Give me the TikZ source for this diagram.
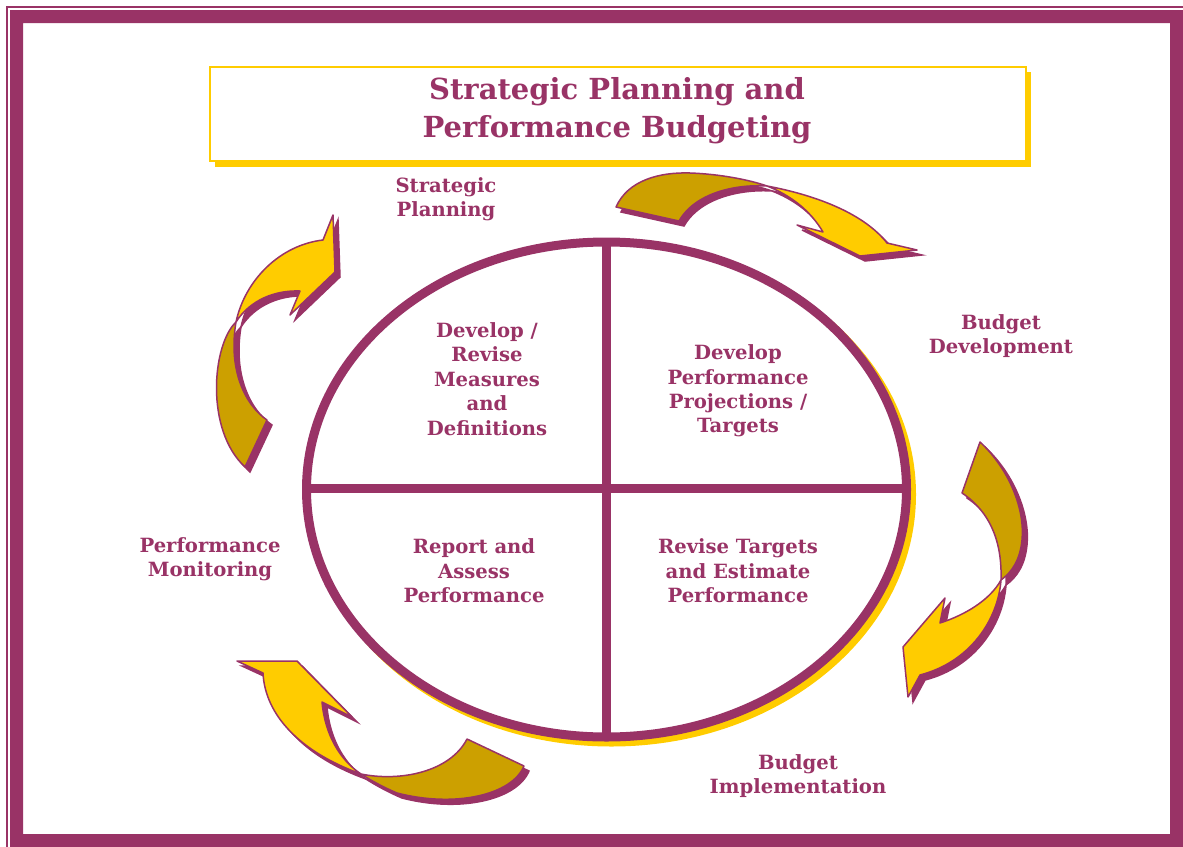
\documentclass[tikz,border=0pt]{standalone}
\usepackage{fontspec}
\setmainfont{DejaVu Serif}
\definecolor{plum}{RGB}{153,51,102}
\definecolor{gold}{RGB}{255,204,0}
\definecolor{darkgold}{RGB}{204,160,0}
\tikzset{
  lbl/.style={text=plum, font=\fontsize{19.6}{24.4}\selectfont\bfseries, align=center, inner sep=0pt},
  ttl/.style={text=plum, font=\fontsize{29}{38}\selectfont\bfseries, align=center, inner sep=0pt},
  shad/.style={fill=plum, draw=plum, line width=1.5pt},
  tailst/.style={fill=darkgold, draw=plum, line width=1.5pt, line join=round},
  headst/.style={fill=gold, draw=plum, line width=1.5pt, line join=round},
}
\newcommand\arrowOne[2]{%
  \filldraw[#1] (616,207) .. controls (628,180) and (660,172) .. (690,173) .. controls (720,174) and (750,180) .. (767,186)
     .. controls (735,184) and (695,193) .. (679,221) -- cycle;
  \filldraw[#2] (767,186) .. controls (820,196) and (865,215) .. (887,243) -- (917,250) -- (860,256) -- (797,225) -- (823,232)
     .. controls (810,210) and (790,195) .. (767,186) -- cycle;}
\newcommand\arrowTwo[2]{%
  \filldraw[#1] (980,442) .. controls (1010,470) and (1025,510) .. (1022,540) .. controls (1020,560) and (1012,572) .. (1001,580)
     .. controls (1002,550) and (995,515) .. (962,493) -- cycle;
  \filldraw[#2] (1001,580) .. controls (998,620) and (970,662) .. (920,675) -- (908,697) -- (903,647) -- (945,598) -- (940,623)
     .. controls (965,615) and (990,600) .. (1001,580) -- cycle;}
\newcommand\arrowThree[2]{%
  \filldraw[#1] (467,739) -- (524,766) .. controls (512,795) and (455,808) .. (397,793) .. controls (385,788) and (370,780) .. (361,774)
     .. controls (400,782) and (450,772) .. (467,739) -- cycle;
  \filldraw[#2] (361,774) .. controls (300,752) and (265,715) .. (263,673) -- (237,661) -- (297,661) -- (352,717) -- (322,702)
     .. controls (325,735) and (340,760) .. (361,774) -- cycle;}
\newcommand\arrowFour[2]{%
  \filldraw[#1] (245,467) -- (267,420) .. controls (245,405) and (228,370) .. (236,322)
     .. controls (212,345) and (205,430) .. (245,467) -- cycle;
  \filldraw[#2] (236,322) .. controls (245,280) and (280,245) .. (323,240) -- (333,215) -- (335,272) -- (290,315) -- (300,291)
     .. controls (275,290) and (250,300) .. (236,322) -- cycle;}
\begin{document}
\begin{tikzpicture}[x=1pt,y=-1pt]
\useasboundingbox (0,0) rectangle (1183,846);
% frame
\draw[plum, line width=1.6pt] (7,7) rectangle (1190,853);
\fill[plum, even odd rule] (10,10) rectangle (1190,853) (23,23) rectangle (1170,834);
% title box
\fill[gold] (215,72) rectangle (1031,167);
\fill[white] (210,67) rectangle (1026,161);
\draw[gold, line width=2.5pt] (210,67) rectangle (1026,161);
\node[ttl] (title) at (617,111) {Strategic Planning and\\Performance Budgeting};
% circle
\draw[gold, line width=9pt] (611.5,494.5) ellipse [x radius=300pt, y radius=247.5pt];
\fill[white] (606.5,489.5) ellipse [x radius=296pt, y radius=243.5pt];
\draw[plum, line width=9pt] (606.5,489.5) ellipse [x radius=300pt, y radius=247.5pt];
\draw[plum, line width=9pt] (606.5,242) -- (606.5,737);
\draw[plum, line width=9pt] (307,488.5) -- (906,488.5);
% arrows
\begin{scope}[shift={(5,5)}]
\arrowOne{shad}{shad}\arrowTwo{shad}{shad}\arrowThree{shad}{shad}\arrowFour{shad}{shad}
\end{scope}
\arrowOne{tailst}{headst}
\arrowTwo{tailst}{headst}
\arrowThree{tailst}{headst}
\arrowFour{tailst}{headst}
% labels
\node[lbl] (sp) at (446,199) {Strategic\\Planning};
\node[lbl] (bd) at (1001,336) {Budget\\Development};
\node[lbl] (pm) at (210,559) {Performance\\Monitoring};
\node[lbl] (bi) at (798,776) {Budget\\Implementation};
\node[lbl] (q1) at (487,379) {Develop /\\Revise\\Measures\\and\\Definitions};
\node[lbl] (q2) at (738,391) {Develop\\Performance\\Projections /\\Targets};
\node[lbl] (q3) at (474,571) {Report and\\Assess\\Performance};
\node[lbl] (q4) at (738,571) {Revise Targets\\and Estimate\\Performance};
\end{tikzpicture}
\end{document}
